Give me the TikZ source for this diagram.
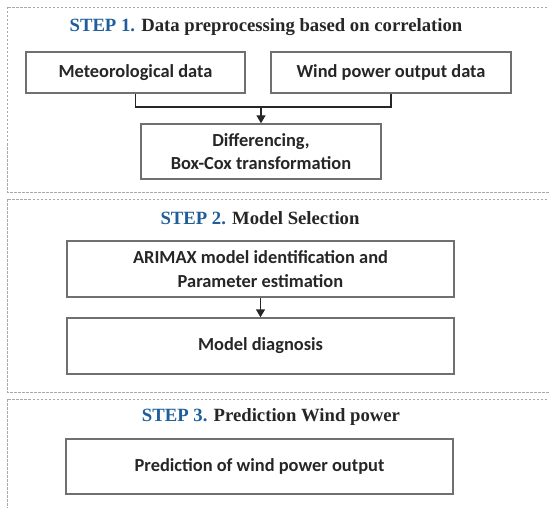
\documentclass[tikz,border=0pt]{standalone}
\usepackage{fontspec}
\setmainfont{Carlito}
\newfontfamily\titlefont{Liberation Serif}
\usetikzlibrary{arrows.meta}
\definecolor{stepblue}{HTML}{1F5F99}
\definecolor{boxgray}{HTML}{707070}
\definecolor{dashgray}{HTML}{A8A8A8}
\tikzset{
  stage/.style={draw=dashgray, line width=0.8pt, dash pattern=on 2.5pt off 1.5pt},
  procbox/.style={draw=boxgray, line width=1.4pt, fill=white, inner sep=0pt, align=center,
    font=\bfseries\fontsize{18.4}{23.5}\selectfont, text=black!85},
  steptitle/.style={font=\titlefont\bfseries\fontsize{18.7}{21}\selectfont, text=black!85, inner sep=0pt},
  link/.style={draw=black!85, line width=1.4pt},
  arr/.style={link, -{Triangle[length=8pt,width=9pt]}}
}
\begin{document}
\begin{tikzpicture}[x=1pt,y=-1pt]
\useasboundingbox (0,0) rectangle (549,508);
% stage frames
\draw[stage] (555,7) -- (7,7) -- (7,192) -- (555,192);
\draw[stage] (555,199) -- (7,199) -- (7,392) -- (555,392);
\draw[stage] (555,399) -- (7,399) -- (7,515);
% titles
\node[steptitle] (t1) at (266,27) {\textcolor{stepblue}{STEP 1.} Data preprocessing based on correlation};
\node[steptitle] (t2) at (260,218) {\textcolor{stepblue}{STEP 2.} Model Selection};
\node[steptitle] (t3) at (271,417) {\textcolor{stepblue}{STEP 3.} Prediction Wind power};
% boxes
\node[procbox, minimum width=219pt, minimum height=41pt] (met) at (135.5,72.5) {Meteorological data};
\node[procbox, minimum width=240pt, minimum height=41pt] (wind) at (391,72.5) {Wind power output data};
\node[procbox, minimum width=240pt, minimum height=55pt] (diff) at (261,151.5) {Differencing,\\Box-Cox transformation};
\node[procbox, minimum width=387pt, minimum height=56pt] (arimax) at (260.5,269) {ARIMAX model identification and\\Parameter estimation};
\node[procbox, minimum width=387pt, minimum height=56pt] (diag) at (260.5,346) {Model diagnosis};
\node[procbox, minimum width=387pt, minimum height=55pt] (pred) at (259.5,466.5) {Prediction of wind power output};
% connectors
\coordinate (j) at (261,107);
\draw[link] (met.south) |- (wind.south |- j) -- (wind.south);
\draw[arr] (j) -- (diff.north);
\draw[arr] (arimax.south) -- (diag.north);
\end{tikzpicture}
\end{document}
